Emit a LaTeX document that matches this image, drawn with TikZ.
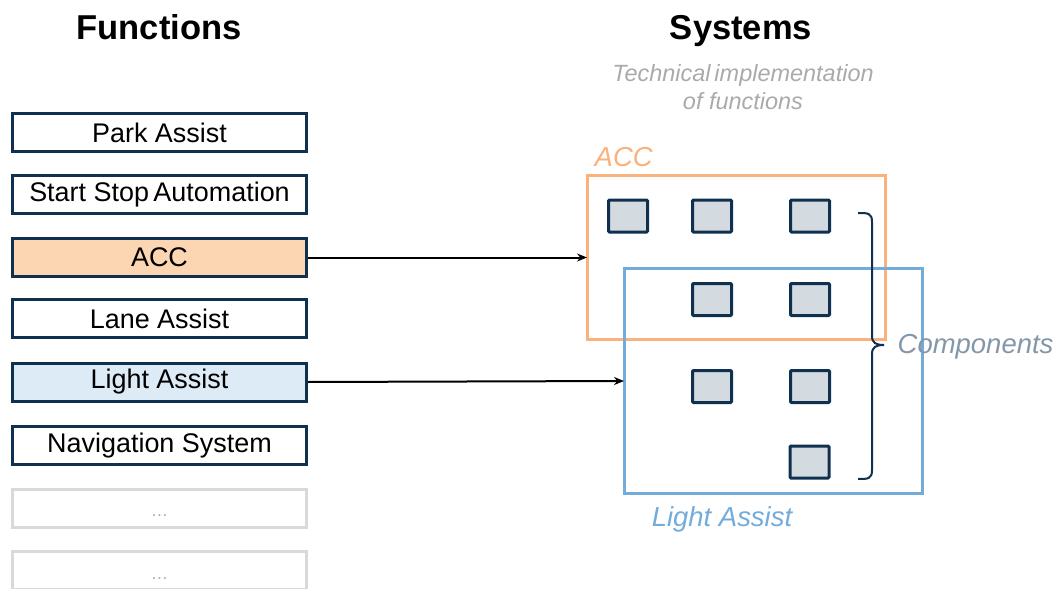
\documentclass[tikz,border=0pt]{standalone}
\usepackage{fontspec}
\setmainfont{Liberation Sans}
\usetikzlibrary{arrows.meta}
\definecolor{navy}{HTML}{10304F}
\definecolor{accline}{HTML}{F9B27B}
\definecolor{accfill}{HTML}{FCD5B2}
\definecolor{laline}{HTML}{72ACDB}
\definecolor{lafill}{HTML}{DDEBF7}
\definecolor{compfill}{HTML}{D3DAE0}
\definecolor{comptext}{HTML}{8497A8}
\definecolor{greytext}{HTML}{AAAAAA}
\definecolor{greyline}{HTML}{D9D9D9}
\tikzset{
  fbox/.style={draw=navy, line width=2.25pt, minimum width=294pt*0.75, minimum height=38pt*0.75, inner sep=0pt, font=\fontsize{20.2pt}{24pt}\selectfont, anchor=center},
  emptybox/.style={fbox, draw=greyline, text=greytext},
  dotstext/.style={text=greytext, font=\fontsize{13pt}{15pt}\selectfont, inner sep=0pt},
  comp/.style={draw=navy, fill=compfill, line width=2.25pt, minimum width=39pt*0.75, minimum height=32pt*0.75, inner sep=0pt, rounded corners=0.8pt},
  frame/.style={line width=2.25pt},
  title/.style={font=\bfseries\fontsize{25.9pt}{30pt}\selectfont, anchor=base},
  conn/.style={-{Stealth[length=10pt*0.75,width=8pt*0.75]}, line width=1.5pt},
}
\begin{document}
\begin{tikzpicture}[x=0.75pt,y=-0.75pt]
\useasboundingbox (0,0) rectangle (1058,589);
% titles
\node[title] (tf) at (159,39) {Functions};
\node[title] (ts) at (741,39) {Systems};
\node[text=greytext, font=\itshape\fontsize{17.6pt}{21pt}\selectfont, align=center] (tech) at (743,87) {Technical\,implementation\\of functions};
% function boxes
\node[fbox] (park) at (159.5,132.5) {Park Assist};
\node[fbox] (ssa) at (159.5,194.5) {Start Stop\,Automation};
\node[fbox, fill=accfill] (acc) at (159.5,257.5) {ACC};
\node[fbox] (lane) at (159.5,318.5) {Lane Assist};
\node[fbox, fill=lafill] (light) at (159.5,382) {Light Assist};
\node[fbox] (nav) at (159.5,445.5) {Navigation System};
\node[emptybox] (e1) at (159.5,508) {};
\node[emptybox] (e2) at (159.5,570.5) {};
\node[dotstext, anchor=base] (d1) at (159.5,516) {\dots};
\node[dotstext, anchor=base] (d2) at (159.5,579) {\dots};
% system frames
\draw[frame, draw=accline] (587,175) rectangle (885,339);
\coordinate (accin) at (587,257.5);
\draw[frame, draw=laline] (624,268) rectangle (922,493);
\coordinate (lain) at (624,381);
\node[text=accline, font=\itshape\fontsize{20.6pt}{24pt}\selectfont, anchor=west] (acclab) at (590,157) {ACC};
\node[text=laline, font=\itshape\fontsize{20.6pt}{24pt}\selectfont] (lalab) at (722,519) {Light Assist};
% components
\node[comp] (c1) at (628,216) {};
\node[comp] (c2) at (712,216) {};
\node[comp] (c3) at (810,216) {};
\node[comp] (c4) at (712,299.5) {};
\node[comp] (c5) at (810,299.5) {};
\node[comp] (c6) at (712,386.5) {};
\node[comp] (c7) at (810,386.5) {};
\node[comp] (c8) at (809.5,462) {};
% brace
\draw[navy, line width=1.5pt] (858,213) .. controls (868,213) and (872,213) .. (872,222) -- (872,336) .. controls (872,343) and (876,345) .. (884,345);
\draw[navy, line width=1.5pt] (858,479) .. controls (868,479) and (872,479) .. (872,470) -- (872,354) .. controls (872,347) and (876,345) .. (884,345);
\node[text=comptext, font=\itshape\fontsize{20.6pt}{24pt}\selectfont, anchor=west] (complab) at (893,347) {Components};
% connectors
\draw[conn] (acc.east) -- (accin);
\draw[conn] (light.east) -- (lain);
\end{tikzpicture}
\end{document}
